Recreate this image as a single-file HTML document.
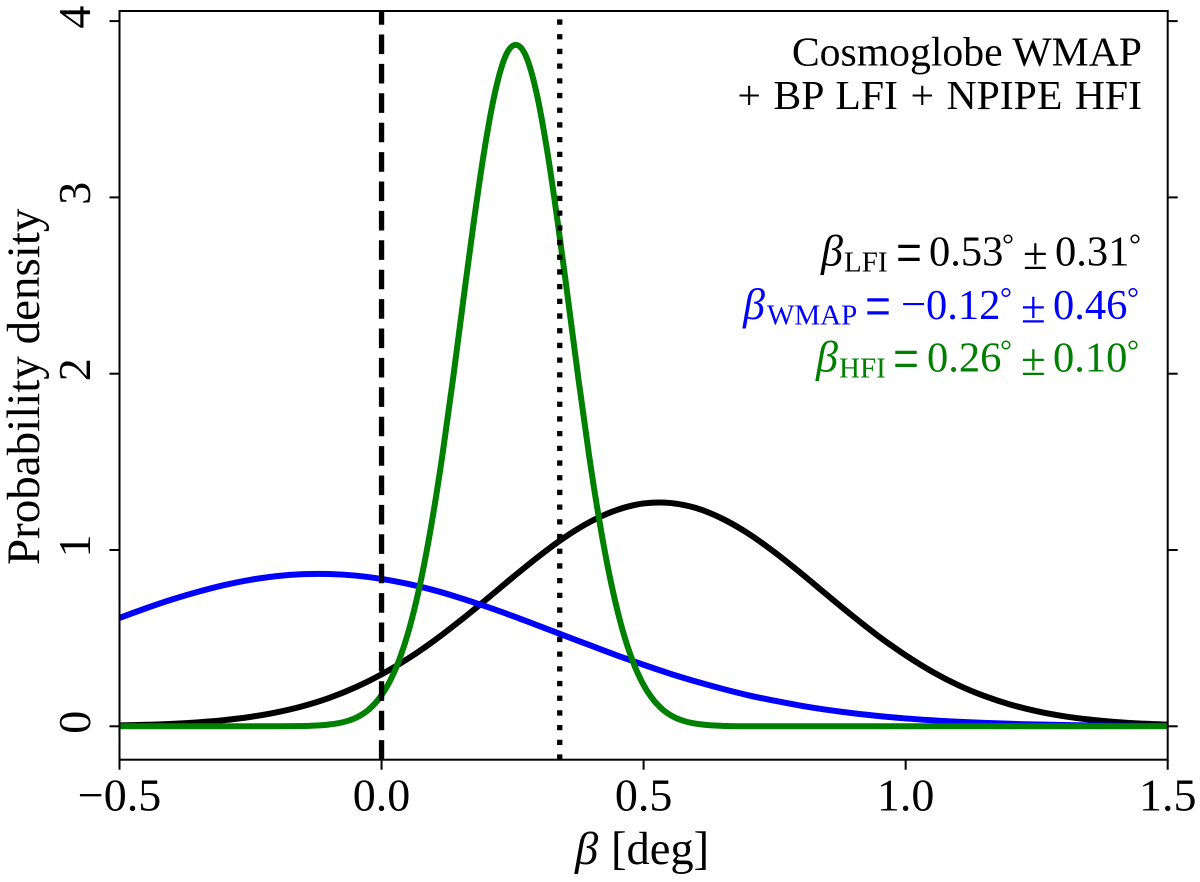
<!DOCTYPE html>
<html lang="en">
<head>
<meta charset="utf-8">
<title>Probability density of beta</title>
<style>
html,body{margin:0;padding:0;background:#fff;width:1200px;height:882px;overflow:hidden}
svg{display:block}
text{font-family:"Liberation Serif",serif}
</style>
</head>
<body>
<svg id="chart" xmlns="http://www.w3.org/2000/svg" width="1200" height="882" viewBox="0 0 1200 882">
<rect x="0" y="0" width="1200" height="882" fill="#fff"/>
<g id="series"></g>
<g id="refs"></g>
<g id="axes"></g>
<text transform="translate(39,565) rotate(-90)" font-size="47" fill="#000">Probability density</text>
<g fill="#000" font-size="46.5">
<text x="575" y="864" font-style="italic">β</text>
<text x="611" y="864">[deg]</text>
</g>
<g font-size="41.7" fill="#000" text-anchor="end">
<text x="1142" y="65.5">Cosmoglobe WMAP</text>
<text x="1142" y="109" word-spacing="2.1">+ BP LFI + NPIPE HFI</text>
</g>
<g fill="#000" font-size="42.5">
<text x="821" y="265.5" font-style="italic" font-size="44">β</text>
<text x="844" y="271.5" font-size="29">LFI</text>
<text transform="translate(896,274.5) scale(1,1.4)" font-size="46">=</text>
<text x="929" y="265.5">0.53</text>
<text x="1002" y="254.5" font-size="30">°</text>
<text x="1023" y="269" font-size="45">±</text>
<text x="1055" y="265.5">0.31</text>
<text x="1129" y="254.5" font-size="30">°</text>
</g>
<g fill="#0000ff" font-size="42.5">
<text x="743" y="319" font-style="italic" font-size="44">β</text>
<text x="767" y="324.5" font-size="29">WMAP</text>
<text transform="translate(865,328) scale(1,1.4)" font-size="46">=</text>
<text x="901" y="319" font-size="45">−</text>
<text x="926" y="319">0.12</text>
<text x="1000" y="308" font-size="30">°</text>
<text x="1021" y="322.5" font-size="45">±</text>
<text x="1053" y="319">0.46</text>
<text x="1127" y="308" font-size="30">°</text>
</g>
<g fill="#008000" font-size="42.5">
<text x="816" y="371.5" font-style="italic" font-size="44">β</text>
<text x="839" y="377.5" font-size="29">HFI</text>
<text transform="translate(893,380.5) scale(1,1.4)" font-size="46">=</text>
<text x="927" y="371.5">0.26</text>
<text x="1000" y="360.5" font-size="30">°</text>
<text x="1021" y="375" font-size="45">±</text>
<text x="1053" y="371.5">0.10</text>
<text x="1127" y="360.5" font-size="30">°</text>
</g>
</svg>
<script>
const xTicks = [-0.5, 0, 0.5, 1, 1.5];
const xTickLabels = ["−0.5", "0.0", "0.5", "1.0", "1.5"];
const yTicks = [0, 1, 2, 3, 4];
const yTickLabels = ["0", "1", "2", "3", "4"];
const refDashedValue = 0;
const refDottedValue = 0.34;

const betaGrid = [-0.5,-0.45,-0.4,-0.35,-0.3,-0.25,-0.2,-0.15,-0.1,-0.05,0,0.05,0.1,0.15,0.2,0.25,0.3,0.35,0.4,0.45,0.5,0.55,0.6,0.65,0.7,0.75,0.8,0.85,0.9,0.95,1,1.05,1.1,1.15,1.2,1.25,1.3,1.35,1.4,1.45,1.5];
const lfiDensity = [0.005,0.0086,0.0141,0.0226,0.0353,0.0536,0.0794,0.1145,0.161,0.2207,0.2946,0.383,0.485,0.599,0.72,0.844,0.964,1.073,1.163,1.228,1.264,1.267,1.238,1.178,1.093,0.987,0.869,0.745,0.623,0.507,0.403,0.311,0.234,0.172,0.123,0.0856,0.058,0.0385,0.0248,0.0155,0.0095];
const wmapDensity = [0.615,0.669,0.719,0.763,0.801,0.831,0.852,0.863,0.864,0.855,0.836,0.808,0.772,0.728,0.679,0.626,0.57,0.513,0.457,0.401,0.349,0.299,0.254,0.213,0.176,0.145,0.117,0.0935,0.074,0.0579,0.0446,0.0341,0.0257,0.0191,0.0141,0.0103,0.0074,0.0052,0.0037,0.0026,0.0018];
const hfiGrid = [-0.5,-0.3,-0.2,-0.144,-0.124,-0.104,-0.084,-0.064,-0.044,-0.024,-0.004,0.016,0.036,0.056,0.076,0.096,0.116,0.136,0.156,0.176,0.196,0.216,0.236,0.256,0.276,0.296,0.316,0.336,0.356,0.376,0.396,0.416,0.436,0.456,0.476,0.496,0.516,0.536,0.556,0.576,0.596,0.616,0.636,0.656,0.7,0.8,1,1.5];
const hfiDensity = [0,0,0,0.002,0.0043,0.0086,0.0167,0.031,0.0557,0.0962,0.16,0.2565,0.3955,0.5875,0.841,1.159,1.536,1.963,2.417,2.862,3.265,3.589,3.798,3.865,3.798,3.589,3.265,2.862,2.417,1.963,1.536,1.159,0.841,0.5875,0.3955,0.2565,0.16,0.0962,0.0557,0.031,0.0167,0.0086,0.0043,0.002,0,0,0,0];

const NS = "http://www.w3.org/2000/svg";
const plot = { left: 119.5, right: 1167.7, top: 11, bottom: 759.7 };
const xDomain = [-0.5, 1.5];
function xScale(v) { return plot.left + (v - xDomain[0]) / (xDomain[1] - xDomain[0]) * (plot.right - plot.left); }
function yScale(v) { return 726.3 - v * 176.3; }
function make(tag, parent) { const el = document.createElementNS(NS, tag); parent.appendChild(el); return el; }

function curvePath(xs, ys) {
  const n = xs.length;
  const slope = [];
  for (let i = 0; i < n; i++) {
    const a = Math.max(0, i - 1), b = Math.min(n - 1, i + 1);
    slope.push((ys[b] - ys[a]) / (xs[b] - xs[a]));
  }
  let d = "M" + xScale(xs[0]).toFixed(2) + " " + yScale(ys[0]).toFixed(2);
  for (let i = 0; i < n - 1; i++) {
    const h = xs[i + 1] - xs[i];
    let m0 = slope[i], m1 = slope[i + 1];
    if (ys[i] === 0 && ys[i + 1] === 0) { m0 = 0; m1 = 0; }
    d += " C" + xScale(xs[i] + h / 3).toFixed(2) + " " + yScale(Math.max(0, ys[i] + m0 * h / 3)).toFixed(2) +
         " " + xScale(xs[i + 1] - h / 3).toFixed(2) + " " + yScale(Math.max(0, ys[i + 1] - m1 * h / 3)).toFixed(2) +
         " " + xScale(xs[i + 1]).toFixed(2) + " " + yScale(ys[i + 1]).toFixed(2);
  }
  return d;
}

const seriesLayer = document.getElementById("series");
const refsLayer = document.getElementById("refs");
const axesLayer = document.getElementById("axes");

const lfiCurve = make("path", seriesLayer);


lfiCurve.setAttribute("d", curvePath(betaGrid, lfiDensity));
lfiCurve.setAttribute("fill", "none");
lfiCurve.setAttribute("stroke", "#000");
lfiCurve.setAttribute("stroke-width", "6");

const wmapCurve = make("path", seriesLayer);


wmapCurve.setAttribute("d", curvePath(betaGrid, wmapDensity));
wmapCurve.setAttribute("fill", "none");
wmapCurve.setAttribute("stroke", "#0000ff");
wmapCurve.setAttribute("stroke-width", "6");

const hfiCurve = make("path", seriesLayer);


hfiCurve.setAttribute("d", curvePath(hfiGrid, hfiDensity));
hfiCurve.setAttribute("fill", "none");
hfiCurve.setAttribute("stroke", "#008000");
hfiCurve.setAttribute("stroke-width", "6");

const dashedLine = make("line", refsLayer);


dashedLine.setAttribute("x1", xScale(refDashedValue));
dashedLine.setAttribute("x2", xScale(refDashedValue));
dashedLine.setAttribute("y1", plot.bottom);
dashedLine.setAttribute("y2", plot.top);
dashedLine.setAttribute("stroke", "#000");
dashedLine.setAttribute("stroke-width", "5.3");
dashedLine.setAttribute("stroke-dasharray", "19.6 9.8");

const dottedLine = make("line", refsLayer);


dottedLine.setAttribute("x1", xScale(refDottedValue));
dottedLine.setAttribute("x2", xScale(refDottedValue));
dottedLine.setAttribute("y1", plot.bottom);
dottedLine.setAttribute("y2", plot.top);
dottedLine.setAttribute("stroke", "#000");
dottedLine.setAttribute("stroke-width", "5.3");
dottedLine.setAttribute("stroke-dasharray", "5.3 9.4");

const frame = make("rect", axesLayer);


frame.setAttribute("x", plot.left);
frame.setAttribute("y", plot.top);
frame.setAttribute("width", plot.right - plot.left);
frame.setAttribute("height", plot.bottom - plot.top);
frame.setAttribute("fill", "none");
frame.setAttribute("stroke", "#000");
frame.setAttribute("stroke-width", "2");

xTicks.forEach(function (v, i) {
  const tick = make("line", axesLayer);
  
  
  tick.setAttribute("x1", xScale(v));
  tick.setAttribute("x2", xScale(v));
  tick.setAttribute("y1", plot.bottom);
  tick.setAttribute("y2", plot.bottom + 10);
  tick.setAttribute("stroke", "#000");
  tick.setAttribute("stroke-width", "2");
  const label = make("text", axesLayer);
  
  
  label.setAttribute("x", xScale(v));
  label.setAttribute("y", 810.5);
  label.setAttribute("text-anchor", "middle");
  label.setAttribute("font-size", "46");
  label.setAttribute("fill", "#000");
  label.textContent = xTickLabels[i];
});

yTicks.forEach(function (v, i) {
  const tickLeft = make("line", axesLayer);
  
  
  tickLeft.setAttribute("x1", plot.left - 10);
  tickLeft.setAttribute("x2", plot.left);
  tickLeft.setAttribute("y1", yScale(v));
  tickLeft.setAttribute("y2", yScale(v));
  tickLeft.setAttribute("stroke", "#000");
  tickLeft.setAttribute("stroke-width", "2");
  const tickRight = make("line", axesLayer);
  
  
  tickRight.setAttribute("x1", plot.right);
  tickRight.setAttribute("x2", plot.right + 10);
  tickRight.setAttribute("y1", yScale(v));
  tickRight.setAttribute("y2", yScale(v));
  tickRight.setAttribute("stroke", "#000");
  tickRight.setAttribute("stroke-width", "2");
  const label = make("text", axesLayer);
  
  
  label.setAttribute("transform", "translate(90," + (yScale(v) - 4) + ") rotate(-90)");
  label.setAttribute("text-anchor", "middle");
  label.setAttribute("font-size", "46");
  label.setAttribute("fill", "#000");
  label.textContent = yTickLabels[i];
});
</script>
</body>
</html>
